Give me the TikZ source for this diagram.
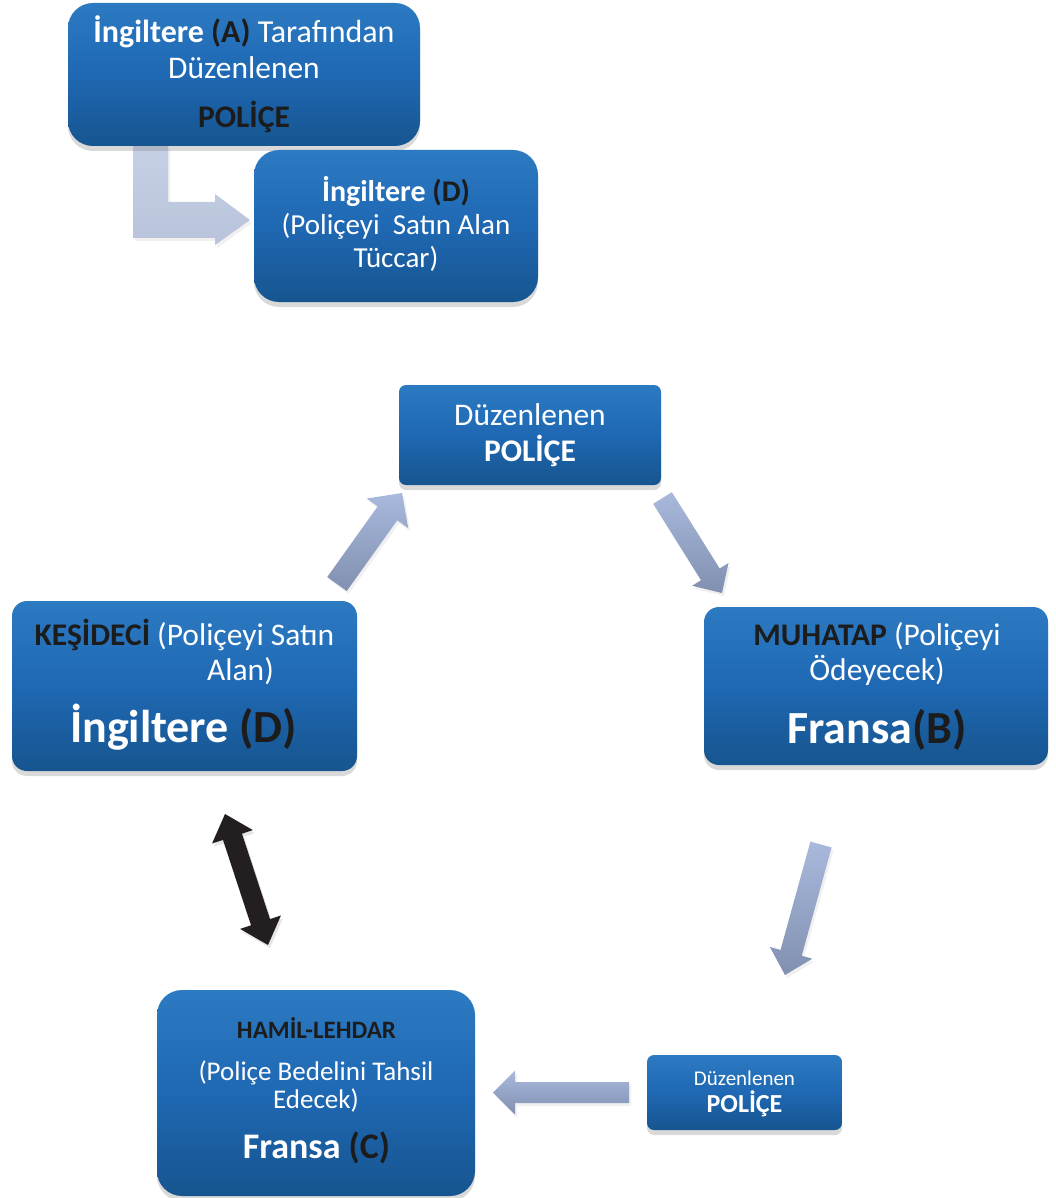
\documentclass[tikz,border=0pt]{standalone}
\usepackage{fontspec}
\setmainfont{Carlito}
\usetikzlibrary{calc,shadows}
\definecolor{boxtop}{HTML}{2C7AC2}
\definecolor{boxmid}{HTML}{1F68B3}
\definecolor{boxbot}{HTML}{16558F}
\definecolor{dk}{HTML}{1C1C1C}
\definecolor{arrtop}{HTML}{A9B9DC}
\definecolor{arrbot}{HTML}{8190B0}
\definecolor{benttop}{HTML}{C6D0E5}
\definecolor{bentbot}{HTML}{B8C3DB}
\definecolor{blk}{HTML}{231F20}
\newcommand\fs[1]{\fontsize{#1}{#1}\selectfont}
\newcommand\blockarrow[6]{%
  \coordinate (ba-h) at ($(#3)!#6!(#2)$);
  \path[#1] ($(#2)!#4!90:(#3)$) -- ($(ba-h)!#4!90:(#3)$) -- ($(ba-h)!#5!90:(#3)$) -- (#3)
    -- ($(ba-h)!#5!-90:(#3)$) -- ($(ba-h)!#4!-90:(#3)$) -- ($(#2)!#4!-90:(#3)$) -- cycle;}
\newcommand\dblarrow[6]{%
  \coordinate (da-1) at ($(#2)!#6!(#3)$);
  \coordinate (da-2) at ($(#3)!#6!(#2)$);
  \path[#1] (#2) -- ($(da-1)!#5!90:(#3)$) -- ($(da-1)!#4!90:(#3)$) -- ($(da-2)!#4!-90:(#2)$)
    -- ($(da-2)!#5!-90:(#2)$) -- (#3) -- ($(da-2)!#5!90:(#2)$) -- ($(da-2)!#4!90:(#2)$)
    -- ($(da-1)!#4!-90:(#3)$) -- ($(da-1)!#5!-90:(#3)$) -- cycle;}
\begin{document}
\begin{tikzpicture}[x=1pt,y=-1pt,
  box/.style={rectangle, inner sep=0pt, top color=boxtop, bottom color=boxbot, middle color=boxmid,
    drop shadow={opacity=0.3, shadow xshift=0pt, shadow yshift=-5pt}},
  txt/.style={inner sep=0pt, anchor=base, text=white},
  garrow/.style={top color=arrtop, bottom color=arrbot,
    drop shadow={opacity=0.12, shadow xshift=2pt, shadow yshift=-3pt}},
  bentarrow/.style={top color=benttop, bottom color=bentbot,
    drop shadow={opacity=0.12, shadow xshift=2pt, shadow yshift=-3pt}},
  blkarrow/.style={fill=blk, drop shadow={opacity=0.2, shadow xshift=2pt, shadow yshift=-3pt}},
]
\useasboundingbox (0,0) rectangle (1055,1198);

% bent arrow (A -> D)
\path[bentarrow] (133,146) -- (133,238) -- (215,238) -- (215,245) -- (250,220)
  -- (215,194) -- (215,202) -- (168,202) -- (168,146) -- cycle;

% boxes
\node[box, rounded corners=25pt, minimum width=352pt, minimum height=143pt] (A) at (244,74.5) {};
\node[box, rounded corners=25pt, minimum width=284pt, minimum height=152pt] (D) at (396,226) {};
\node[box, rounded corners=7pt, minimum width=262pt, minimum height=100pt] (P1) at (530,435) {};
\node[box, rounded corners=15pt, minimum width=345pt, minimum height=170pt] (K) at (184.5,686) {};
\node[box, rounded corners=15pt, minimum width=344pt, minimum height=158pt] (M) at (876,686) {};
\node[box, rounded corners=25pt, minimum width=318pt, minimum height=206pt] (H) at (316,1093) {};
\node[box, rounded corners=7pt, minimum width=195pt, minimum height=75pt] (P2) at (744.5,1092.5) {};

% texts box A
\node[txt, font=\fs{32}] (A1) at (244,43) {\textbf{İngiltere} \textbf{\textcolor{dk}{(A)}} Tarafından};
\node[txt, font=\fs{31.5}] (A2) at (244,79) {Düzenlenen};
\node[txt, font=\fs{31.5}\bfseries, text=dk] (A3) at (244,128) {POLİÇE};
% box D
\node[txt, font=\fs{30}\bfseries] (D1) at (396,202) {İngiltere \textcolor{dk}{(D)}};
\node[txt, font=\fs{29}] (D2) at (396,235) {(Poliçeyi\ \ Satın Alan};
\node[txt, font=\fs{29}] (D3) at (396,267) {Tüccar)};
% top police
\node[txt, font=\fs{31.5}] (P11) at (530,425) {Düzenlenen};
\node[txt, font=\fs{31.5}\bfseries] (P12) at (530,461) {POLİÇE};
% left box
\node[txt, font=\fs{31.5}] (K1) at (184.5,645) {\textbf{\textcolor{dk}{KEŞİDECİ}} (Poliçeyi Satın};
\node[txt, font=\fs{31.5}, anchor=base west] (K2) at (207,680) {Alan)};
\node[txt, font=\fs{46}\bfseries] (K3) at (183.5,742) {İngiltere \textcolor{dk}{(D)}};
% right box
\node[txt, font=\fs{31.5}] (M1) at (877,645) {\textbf{\textcolor{dk}{MUHATAP}} (Poliçeyi};
\node[txt, font=\fs{31.5}] (M2) at (877,680) {Ödeyecek)};
\node[txt, font=\fs{46}\bfseries] (M3) at (877,743) {Fransa\textcolor{dk}{(B)}};
% bottom-left box
\node[txt, font=\fs{25}\bfseries, text=dk] (H1) at (316.5,1038) {HAMİL-LEHDAR};
\node[txt, font=\fs{27}] (H2) at (316,1080) {(Poliçe Bedelini Tahsil};
\node[txt, font=\fs{27}] (H3) at (316,1108) {Edecek)};
\node[txt, font=\fs{36}\bfseries] (H4) at (316.5,1158) {Fransa \textcolor{dk}{(C)}};
% bottom-right police
\node[txt, font=\fs{21}] (P21) at (744.5,1085) {Düzenlenen};
\node[txt, font=\fs{26}\bfseries] (P22) at (744.5,1112) {POLİÇE};

% arrow coordinates
\coordinate (g1s) at (337,584);   \coordinate (g1e) at (402,493);
\coordinate (g2s) at (662.5,498); \coordinate (g2e) at (722,593);
\coordinate (g3s) at (821,844.5); \coordinate (g3e) at (785,975);
\coordinate (g4s) at (629,1092.5);\coordinate (g4e) at (493,1092.5);
\coordinate (b1) at (225,814);    \coordinate (b2) at (268,945);

\blockarrow{garrow}{g1s}{g1e}{12pt}{25.5pt}{25pt}
\blockarrow{garrow}{g2s}{g2e}{11pt}{21.5pt}{22pt}
\blockarrow{garrow}{g3s}{g3e}{11pt}{22pt}{23pt}
\blockarrow{garrow}{g4s}{g4e}{10.5pt}{22pt}{22pt}
\dblarrow{blkarrow}{b1}{b2}{10pt}{21.5pt}{24pt}
\end{tikzpicture}
\end{document}
